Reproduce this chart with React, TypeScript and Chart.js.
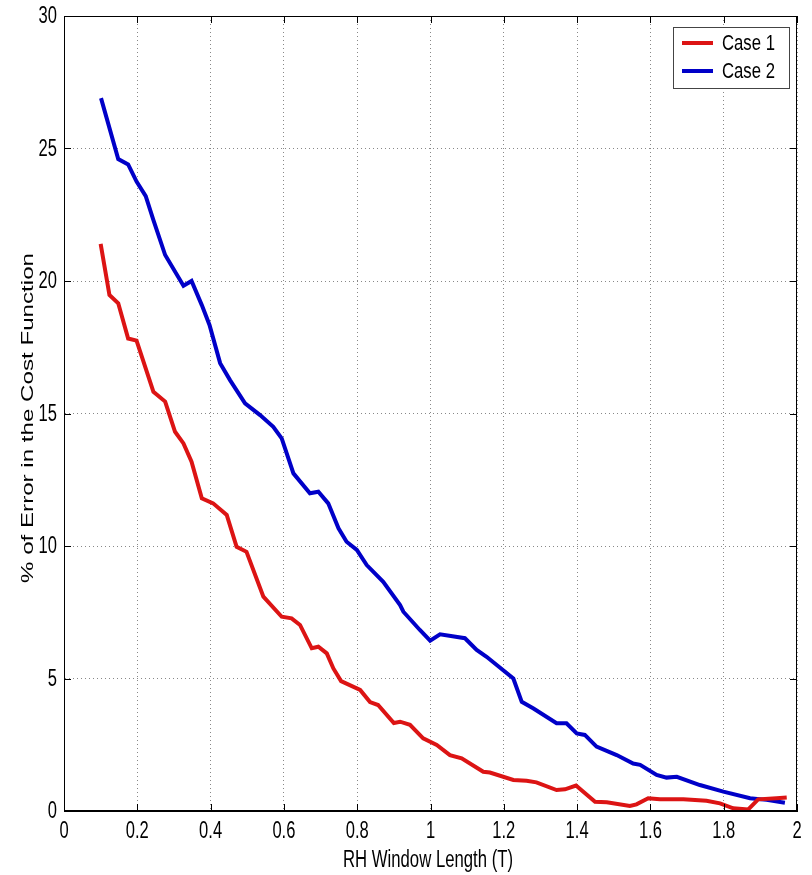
import React, { useEffect, useRef } from "react";
import { Chart, registerables } from "chart.js";

Chart.register(...registerables);

const case1X = [0.10, 0.124, 0.148, 0.175, 0.198, 0.244, 0.276, 0.303, 0.326, 0.348, 0.376, 0.407, 0.444, 0.471, 0.498, 0.544, 0.594, 0.621, 0.644, 0.676, 0.694, 0.717, 0.735, 0.756, 0.808, 0.835, 0.857, 0.9, 0.917, 0.944, 0.98, 1.017, 1.053, 1.085, 1.144, 1.162, 1.226, 1.262, 1.289, 1.344, 1.367, 1.397, 1.449, 1.481, 1.544, 1.562, 1.594, 1.626, 1.69, 1.753, 1.79, 1.826, 1.867, 1.894, 1.944, 1.972];
const case1Y = [21.4, 19.47, 19.16, 17.83, 17.75, 15.82, 15.45, 14.31, 13.87, 13.18, 11.8, 11.61, 11.17, 9.97, 9.78, 8.09, 7.33, 7.27, 7.02, 6.14, 6.2, 5.95, 5.38, 4.9, 4.57, 4.11, 4.0, 3.32, 3.37, 3.25, 2.74, 2.49, 2.11, 1.99, 1.48, 1.45, 1.17, 1.14, 1.08, 0.79, 0.82, 0.96, 0.35, 0.33, 0.19, 0.25, 0.48, 0.44, 0.44, 0.39, 0.29, 0.1, 0.06, 0.44, 0.48, 0.51];

const case2X = [0.101, 0.148, 0.175, 0.198, 0.223, 0.244, 0.276, 0.326, 0.348, 0.376, 0.397, 0.426, 0.453, 0.494, 0.535, 0.571, 0.594, 0.626, 0.671, 0.694, 0.721, 0.749, 0.771, 0.799, 0.826, 0.871, 0.917, 0.926, 0.971, 0.999, 1.026, 1.094, 1.126, 1.153, 1.226, 1.249, 1.281, 1.344, 1.371, 1.399, 1.421, 1.453, 1.508, 1.553, 1.572, 1.617, 1.644, 1.672, 1.735, 1.799, 1.872, 1.917, 1.967];
const case2Y = [26.9, 24.6, 24.4, 23.75, 23.2, 22.3, 20.98, 19.82, 20.0, 19.09, 18.34, 16.9, 16.26, 15.38, 14.94, 14.5, 14.06, 12.74, 11.99, 12.05, 11.61, 10.67, 10.16, 9.85, 9.28, 8.65, 7.77, 7.52, 6.83, 6.43, 6.67, 6.52, 6.08, 5.82, 5.0, 4.12, 3.87, 3.31, 3.31, 2.93, 2.87, 2.43, 2.11, 1.79, 1.74, 1.36, 1.26, 1.29, 0.98, 0.73, 0.48, 0.42, 0.31];

const seriesNames = ["Case 1", "Case 2"];
const seriesColors = ["#dc1414", "#0000c8"];
const xTickValues = [0, 0.2, 0.4, 0.6, 0.8, 1, 1.2, 1.4, 1.6, 1.8, 2];
const xTickLabels = ["0", "0.2", "0.4", "0.6", "0.8", "1", "1.2", "1.4", "1.6", "1.8", "2"];
const yTickValues = [0, 5, 10, 15, 20, 25, 30];
const yTickLabels = ["0", "5", "10", "15", "20", "25", "30"];
const xTitle = "RH Window Length (T)";
const yTitle = "% of Error in the Cost Function";

const FONT = "'Liberation Sans', Arial, Helvetica, sans-serif";
const SQ = 0.72; // horizontal squeeze of the reference's text

function squeezedText(ctx: any, text: string, x: number, y: number, align: "left" | "center" | "right", sq = SQ) {
  ctx.save();
  ctx.translate(x, y);
  ctx.scale(sq, 1);
  ctx.textAlign = align;
  ctx.fillText(text, 0, 0);
  ctx.restore();
}

const overlayPlugin = {
  id: "overlay",
  afterDraw(chart: any) {
    const { ctx, chartArea, scales } = chart;
    const { left, right, top, bottom } = chartArea;
    ctx.save();
    // border
    ctx.strokeStyle = "#000";
    ctx.lineWidth = 1;
    ctx.strokeRect(left + 0.5, top + 0.5, right - left - 1, bottom - top - 1);
    // tick marks inside
    ctx.beginPath();
    xTickValues.forEach((v) => {
      const px = Math.round(scales.x.getPixelForValue(v)) + 0.5;
      ctx.moveTo(px, bottom); ctx.lineTo(px, bottom - 7);
      ctx.moveTo(px, top); ctx.lineTo(px, top + 7);
    });
    yTickValues.forEach((v) => {
      const py = Math.round(scales.y.getPixelForValue(v)) + 0.5;
      ctx.moveTo(left, py); ctx.lineTo(left + 7, py);
      ctx.moveTo(right, py); ctx.lineTo(right - 7, py);
    });
    ctx.stroke();
    // tick labels
    ctx.fillStyle = "#000";
    ctx.font = "23px " + FONT;
    ctx.textBaseline = "middle";
    xTickValues.forEach((v, i) => {
      squeezedText(ctx, xTickLabels[i], scales.x.getPixelForValue(v), bottom + 21, "center");
    });
    yTickValues.forEach((v, i) => {
      squeezedText(ctx, yTickLabels[i], left - 7, scales.y.getPixelForValue(v) + 1, "right");
    });
    // x title
    ctx.font = "23px " + FONT;
    const xw = ctx.measureText(xTitle).width;
    squeezedText(ctx, xTitle, 428, 861, "center", 170 / xw);
    // y title (rotated; its length is stretched relative to glyph height)
    ctx.save();
    ctx.font = "17px " + FONT;
    const yw = ctx.measureText(yTitle).width;
    ctx.translate(28, 418);
    ctx.rotate(-Math.PI / 2);
    ctx.scale(330 / yw, 1);
    ctx.textAlign = "center";
    ctx.fillText(yTitle, 0, 0);
    ctx.restore();
    // legend
    const bx = right - 124;
    const by = top + 11;
    const bw = 116;
    const bh = 61;
    ctx.fillStyle = "#fff";
    ctx.fillRect(bx, by, bw, bh);
    ctx.strokeStyle = "#444";
    ctx.lineWidth = 1;
    ctx.strokeRect(bx + 0.5, by + 0.5, bw, bh);
    ctx.font = "22px " + FONT;
    for (let i = 0; i < 2; i++) {
      const yy = by + 16 + i * 28;
      ctx.strokeStyle = seriesColors[i];
      ctx.lineWidth = 4;
      ctx.beginPath();
      ctx.moveTo(bx + 9, yy);
      ctx.lineTo(bx + 40, yy);
      ctx.stroke();
      ctx.fillStyle = "#000";
      squeezedText(ctx, seriesNames[i], bx + 49, yy + 1, "left", 0.76);
    }
    ctx.restore();
  },
};

export default function App() {
  const ref = useRef<HTMLCanvasElement>(null);
  useEffect(() => {
    const mk = (xs: number[], ys: number[]) => xs.map((x, i) => ({ x, y: ys[i] }));
    const chart = new Chart(ref.current!, {
      type: "line",
      data: {
        datasets: [
          {
            label: seriesNames[0],
            data: mk(case1X, case1Y),
            borderColor: seriesColors[0],
            backgroundColor: seriesColors[0],
            borderWidth: 4,
            pointRadius: 0,
            tension: 0,
          },
          {
            label: seriesNames[1],
            data: mk(case2X, case2Y),
            borderColor: seriesColors[1],
            backgroundColor: seriesColors[1],
            borderWidth: 4,
            pointRadius: 0,
            tension: 0,
          },
        ],
      },
      options: {
        animation: false,
        responsive: false,
        maintainAspectRatio: false,
        layout: { padding: { top: 16, right: 15, left: 0, bottom: 0 } },
        plugins: { legend: { display: false }, tooltip: { enabled: false } },
        scales: {
          x: {
            type: "linear",
            min: 0,
            max: 2,
            afterFit: (s: any) => { s.height = 64; },
            ticks: { stepSize: 0.2, display: false },
            grid: { color: "#888", drawTicks: false },
            border: { display: true, color: "#000", dash: [1, 3] } as any,
          },
          y: {
            min: 0,
            max: 30,
            afterFit: (s: any) => { s.width = 64; },
            ticks: { stepSize: 5, display: false },
            grid: { color: "#888", drawTicks: false },
            border: { display: true, color: "#000", dash: [1, 3] } as any,
          },
        },
      },
      plugins: [overlayPlugin],
    } as any);
    return () => chart.destroy();
  }, []);
  return (
    <div style={{ position: "fixed", left: 0, top: 0, width: 812, height: 875, background: "#fff" }}>
      <canvas ref={ref} width={812} height={875} style={{ width: 812, height: 875 }} />
    </div>
  );
}
